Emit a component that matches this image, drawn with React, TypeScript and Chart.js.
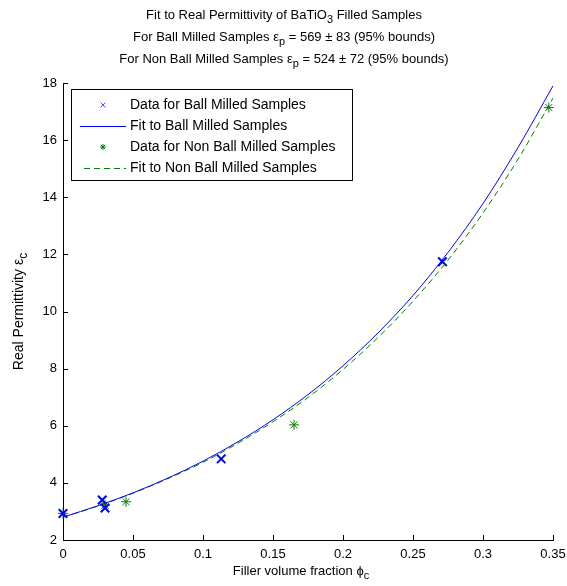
import React, { useEffect, useRef } from "react";
import { Chart, registerables } from "chart.js";

Chart.register(...registerables);

const fitX = [0, 0.025, 0.05, 0.075, 0.1, 0.125, 0.15, 0.175, 0.2, 0.225, 0.25, 0.275, 0.3, 0.325, 0.35];
const fitBall = [2.8, 3.2, 3.65, 4.17, 4.76, 5.44, 6.21, 7.09, 8.1, 9.25, 10.56, 12.07, 13.78, 15.74, 17.9];
const fitNonBall = [2.8, 3.19, 3.64, 4.15, 4.72, 5.39, 6.14, 6.99, 7.97, 9.09, 10.36, 11.8, 13.45, 15.33, 17.47];

const ballX = [0, 0.028, 0.03, 0.113, 0.271];
const ballY = [2.93, 3.4, 3.12, 4.84, 11.74];
const nonBallX = [0, 0.03, 0.045, 0.165, 0.347];
const nonBallY = [2.93, 3.22, 3.34, 6.03, 17.14];

const xTicks = [0, 0.05, 0.1, 0.15, 0.2, 0.25, 0.3, 0.35];
const yTicks = [2, 4, 6, 8, 10, 12, 14, 16, 18];

const legendLabels = [
  "Data for Ball Milled Samples",
  "Fit to Ball Milled Samples",
  "Data for Non Ball Milled Samples",
  "Fit to Non Ball Milled Samples",
];

const FONT = "Liberation Sans, Arial, sans-serif";
const BLUE = "#0000ff";
const GREEN = "#008000";

type Part = [string, boolean];

function drawParts(ctx: CanvasRenderingContext2D, parts: Part[], cx: number, cy: number, size: number) {
  const main = `${size}px ${FONT}`;
  const sub = `${Math.round(size * 0.85)}px ${FONT}`;
  let w = 0;
  for (const [t, s] of parts) {
    ctx.font = s ? sub : main;
    w += ctx.measureText(t).width;
  }
  let x = cx - w / 2;
  ctx.textAlign = "left";
  ctx.textBaseline = "middle";
  for (const [t, s] of parts) {
    ctx.font = s ? sub : main;
    ctx.fillText(t, x, s ? cy + 5 : cy);
    x += ctx.measureText(t).width;
  }
}

function drawX(ctx: CanvasRenderingContext2D, x: number, y: number, r: number) {
  ctx.beginPath();
  ctx.moveTo(x - r, y - r);
  ctx.lineTo(x + r, y + r);
  ctx.moveTo(x - r, y + r);
  ctx.lineTo(x + r, y - r);
  ctx.stroke();
}

function drawStar(ctx: CanvasRenderingContext2D, x: number, y: number, r: number) {
  ctx.beginPath();
  ctx.moveTo(x - r, y);
  ctx.lineTo(x + r, y);
  ctx.moveTo(x, y - r);
  ctx.lineTo(x, y + r);
  const d = r * 0.7;
  ctx.moveTo(x - d, y - d);
  ctx.lineTo(x + d, y + d);
  ctx.moveTo(x - d, y + d);
  ctx.lineTo(x + d, y - d);
  ctx.stroke();
}

const decorPlugin = {
  id: "decor",
  afterDraw(chart: any) {
    const ctx: CanvasRenderingContext2D = chart.ctx;
    const xs = chart.scales.x;
    const ys = chart.scales.y;
    const area = chart.chartArea;
    ctx.save();
    // inward ticks
    ctx.strokeStyle = "#000";
    ctx.lineWidth = 1;
    ctx.beginPath();
    for (const v of xTicks) {
      const px = Math.round(xs.getPixelForValue(v)) + 0.5;
      ctx.moveTo(px, area.bottom);
      ctx.lineTo(px, area.bottom - 5);
    }
    for (const v of yTicks) {
      const py = Math.round(ys.getPixelForValue(v)) + 0.5;
      ctx.moveTo(area.left, py);
      ctx.lineTo(area.left + 5, py);
    }
    ctx.stroke();

    // titles
    ctx.fillStyle = "#000";
    const tcx = 284;
    drawParts(ctx, [["Fit to Real Permittivity of BaTiO", false], ["3", true], [" Filled Samples", false]], tcx, 15, 13);
    drawParts(ctx, [["For Ball Milled Samples ε", false], ["p", true], [" = 569 ± 83 (95% bounds)", false]], tcx, 37, 13);
    drawParts(ctx, [["For Non Ball Milled Samples ε", false], ["p", true], [" = 524 ± 72 (95% bounds)", false]], tcx, 59, 13);

    // x axis title
    drawParts(ctx, [["Filler volume fraction ϕ", false], ["c", true]], 301, 571, 13);
    // y axis title
    ctx.save();
    ctx.translate(19, (area.top + area.bottom) / 2);
    ctx.rotate(-Math.PI / 2);
    drawParts(ctx, [["Real Permittivity ε", false], ["c", true]], 0, 0, 14);
    ctx.restore();

    // legend
    const bx = 71.5, by = 89.5, bw = 281, bh = 91;
    ctx.fillStyle = "#fff";
    ctx.fillRect(bx, by, bw, bh);
    ctx.strokeStyle = "#000";
    ctx.lineWidth = 1;
    ctx.strokeRect(bx, by, bw, bh);
    const rows = [105, 126, 147, 168];
    ctx.fillStyle = "#000";
    ctx.font = `14px ${FONT}`;
    ctx.textAlign = "left";
    ctx.textBaseline = "middle";
    rows.forEach((ry, i) => ctx.fillText(legendLabels[i], 130, ry));
    ctx.strokeStyle = "#5050ff";
    ctx.lineWidth = 1;
    drawX(ctx, 103, rows[0], 2.5);
    ctx.strokeStyle = BLUE;
    ctx.beginPath();
    ctx.moveTo(80, rows[1] + 0.5);
    ctx.lineTo(126, rows[1] + 0.5);
    ctx.stroke();
    ctx.strokeStyle = GREEN;
    drawStar(ctx, 103, rows[2], 3);
    ctx.setLineDash([6, 4]);
    ctx.beginPath();
    ctx.moveTo(84, rows[3] + 0.5);
    ctx.lineTo(126, rows[3] + 0.5);
    ctx.stroke();
    ctx.setLineDash([]);
    ctx.restore();
  },
};

export default function App() {
  const ref = useRef<HTMLCanvasElement | null>(null);
  useEffect(() => {
    if (!ref.current) return;
    const chart = new Chart(ref.current, {
      type: "scatter",
      data: {
        datasets: [
          {
            label: legendLabels[1],
            data: fitX.map((x, i) => ({ x, y: fitBall[i] })),
            showLine: true,
            borderColor: BLUE,
            borderWidth: 1,
            pointRadius: 0,
            cubicInterpolationMode: "monotone",
          },
          {
            label: legendLabels[3],
            data: fitX.map((x, i) => ({ x, y: fitNonBall[i] })),
            showLine: true,
            borderColor: GREEN,
            borderWidth: 1,
            borderDash: [6, 4],
            pointRadius: 0,
            cubicInterpolationMode: "monotone",
          },
          {
            label: legendLabels[0],
            data: ballX.map((x, i) => ({ x, y: ballY[i] })),
            pointStyle: "crossRot",
            pointRadius: 6,
            borderColor: BLUE,
            backgroundColor: BLUE,
            pointBorderWidth: 2,
            clip: false,
          },
          {
            label: legendLabels[2],
            data: nonBallX.map((x, i) => ({ x, y: nonBallY[i] })),
            pointStyle: "star",
            pointRadius: 5,
            borderColor: GREEN,
            backgroundColor: GREEN,
            pointBorderWidth: 1,
            clip: false,
          },
        ] as any,
      },
      options: {
        animation: false,
        responsive: false,
        layout: { padding: { top: 83, right: 14, left: 0, bottom: 0 } },
        plugins: { legend: { display: false }, title: { display: false }, tooltip: { enabled: false } },
        scales: {
          x: {
            type: "linear",
            min: 0,
            max: 0.35,
            afterFit: (s: any) => { s.height = 46; s.paddingRight = 0; s.paddingLeft = 0; },
            afterBuildTicks: (s: any) => { s.ticks = xTicks.map((v) => ({ value: v })); },
            grid: { display: false, drawTicks: false },
            border: { display: true, color: "#000", width: 1 },
            ticks: {
              padding: 7,
              color: "#000",
              font: { family: FONT, size: 13 },
              callback: (v: any) => String(Number(v)),
            },
          },
          y: {
            type: "linear",
            min: 2,
            max: 18,
            afterFit: (s: any) => { s.width = 63; s.paddingTop = 0; s.paddingBottom = 0; },
            afterBuildTicks: (s: any) => { s.ticks = yTicks.map((v) => ({ value: v })); },
            grid: { display: false, drawTicks: false },
            border: { display: true, color: "#000", width: 1 },
            ticks: {
              padding: 6,
              color: "#000",
              font: { family: FONT, size: 13 },
              callback: (v: any) => String(Number(v)),
            },
          },
        },
      } as any,
      plugins: [decorPlugin],
    });
    return () => chart.destroy();
  }, []);
  return (
    <div style={{ position: "fixed", left: 0, top: 0, width: 567, height: 586, background: "#fff" }}>
      <canvas ref={ref} width={567} height={586} style={{ width: 567, height: 586 }} />
    </div>
  );
}
